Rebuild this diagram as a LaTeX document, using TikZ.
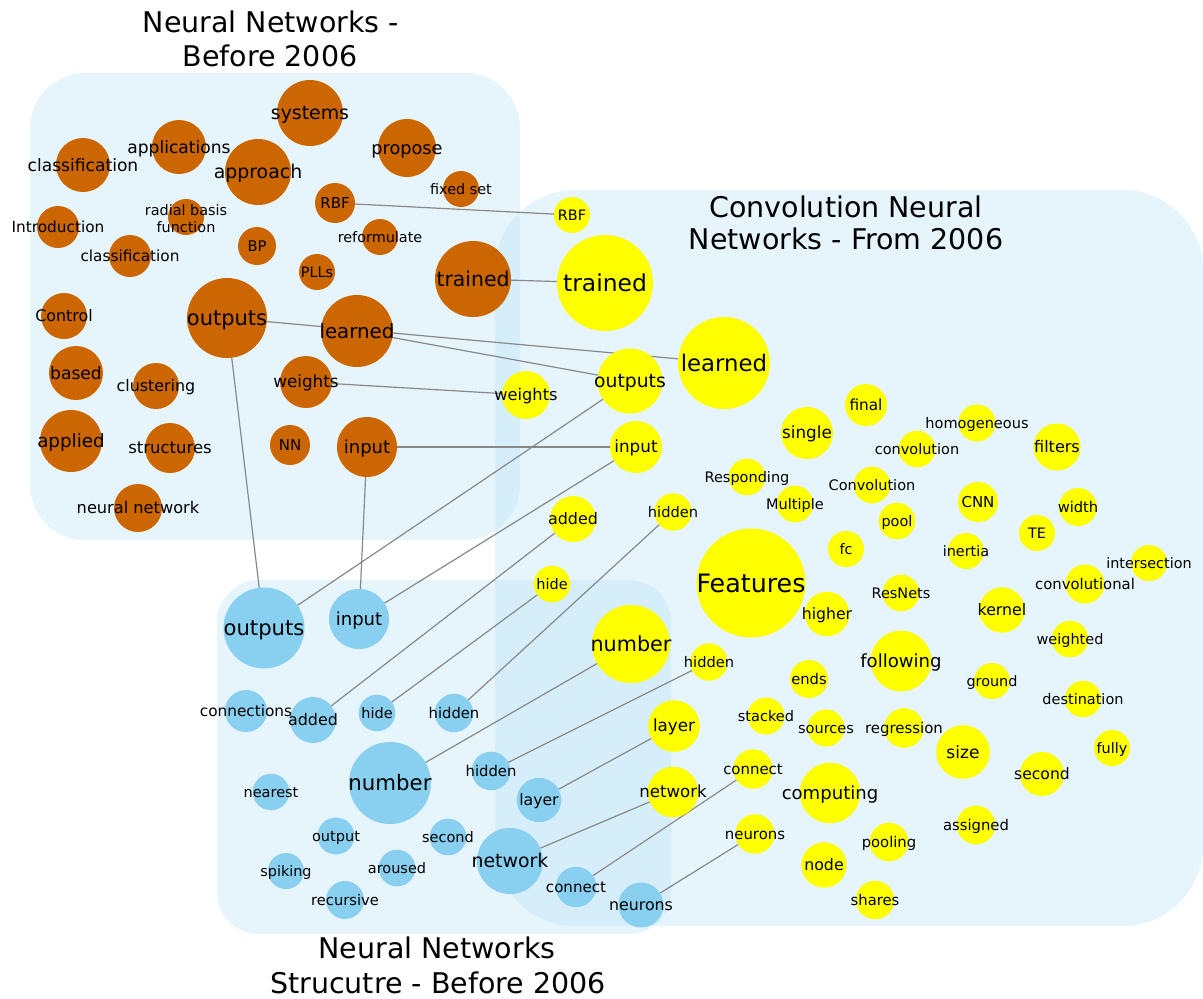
\documentclass[tikz,border=0pt]{standalone}
\usepackage{fontspec}
\setmainfont{DejaVu Sans}

\pgfdeclarelayer{panels}
\pgfdeclarelayer{edges}
\pgfdeclarelayer{labels}
\pgfsetlayers{panels,edges,main,labels}

\definecolor{panelblue}{RGB}{186,227,247}
\definecolor{nodeorange}{RGB}{204,102,0}
\definecolor{nodeyellow}{RGB}{255,255,0}
\definecolor{nodeblue}{RGB}{137,207,240}
\definecolor{edgegray}{RGB}{136,136,136}

\tikzset{
  bubble/.style={circle, inner sep=0pt, outer sep=0pt, draw=none},
  ob/.style={bubble, fill=nodeorange},
  yb/.style={bubble, fill=nodeyellow},
  bb/.style={bubble, fill=nodeblue},
  lbl/.style={inner sep=0pt},
  link/.style={draw=edgegray, line width=1.2pt},
  panel/.style={fill=panelblue, fill opacity=0.36},
  grouptitle/.style={anchor=base, inner sep=0pt, font=\fontsize{28.5}{34}\selectfont},
}

% one word bubble: style, name, x, y, radius, label
\newcommand{\wordnode}[6]{%
  \node[#1, minimum size={2*#5pt}] (#2) at (#3,#4) {};
  \pgfmathsetmacro{\wordfs}{9+0.3*#5}%
  \pgfmathsetmacro{\wordht}{0.93*\wordfs}%
  \pgfmathsetmacro{\worddp}{0.22*\wordfs}%
  \begin{pgfonlayer}{labels}
    \node[lbl, text height=\wordht pt, text depth=\worddp pt,
          font=\fontsize{\wordfs pt}{\wordfs pt}\selectfont] (#2-t) at (#3,#4) {#6};
  \end{pgfonlayer}%
}

\begin{document}
\begin{tikzpicture}[x=1pt,y=-1pt]
\useasboundingbox (0,0) rectangle (1203,999);

% group panels
\begin{pgfonlayer}{panels}
  \fill[panel, rounded corners=55pt] (30,73) rectangle (520,540);
  \fill[panel, rounded corners=80pt] (495,190) rectangle (1203,926);
  \fill[panel, rounded corners=42pt] (217,580) rectangle (671,934);
\end{pgfonlayer}

% group titles
\node[grouptitle] (t1a) at (271,32) {Neural Networks -};
\node[grouptitle] (t1b) at (270,66) {Before 2006};
\node[grouptitle] (t2a) at (846,217) {Convolution Neural};
\node[grouptitle] (t2b) at (846,249) {Networks - From 2006};
\node[grouptitle] (t3a) at (437,958) {Neural Networks};
\node[grouptitle] (t3b) at (438,993) {Strucutre - Before 2006};

% neural networks before 2006
\wordnode{ob}{o-systems}{310}{113}{33}{systems}
\wordnode{ob}{o-applications}{179}{147}{27}{applications}
\wordnode{ob}{o-class1}{83}{165}{27}{classification}
\wordnode{ob}{o-approach}{258}{172}{33}{approach}
\wordnode{ob}{o-propose}{407}{148}{29}{propose}
\wordnode{ob}{o-fixedset}{461}{189}{18}{fixed set}
\wordnode{ob}{o-rbf}{335}{203}{20}{RBF}
\node[ob, minimum size=36pt] (o-radial) at (186,217) {};
\begin{pgfonlayer}{labels}
  \node[inner sep=0pt, align=center, font=\fontsize{14.4pt}{17pt}\selectfont] (o-radial-t) at (186,219) {radial basis\\function};
\end{pgfonlayer}
\wordnode{ob}{o-intro}{58}{227}{21}{Introduction}
\wordnode{ob}{o-reform}{380}{237}{18}{reformulate}
\wordnode{ob}{o-bp}{257}{246}{19}{BP}
\wordnode{ob}{o-class2}{130}{256}{21}{classification}
\wordnode{ob}{o-plls}{317}{272}{18}{PLLs}
\wordnode{ob}{o-trained}{473}{279}{38}{trained}
\wordnode{ob}{o-outputs}{227}{318}{40}{outputs}
\wordnode{ob}{o-control}{64}{316}{23}{Control}
\wordnode{ob}{o-learned}{357}{331}{36}{learned}
\wordnode{ob}{o-based}{76}{373}{27}{based}
\wordnode{ob}{o-clustering}{156}{386}{23}{clustering}
\wordnode{ob}{o-weights}{306}{382}{26}{weights}
\wordnode{ob}{o-applied}{71}{441}{31}{applied}
\wordnode{ob}{o-structures}{170}{448}{25}{structures}
\wordnode{ob}{o-nn}{290}{445}{20}{NN}
\wordnode{ob}{o-input}{367}{447}{30}{input}
\wordnode{ob}{o-neural}{138}{508}{24}{neural network}

% convolution neural networks from 2006
\wordnode{yb}{y-rbf}{572}{215}{18}{RBF}
\wordnode{yb}{y-trained}{605}{283}{48}{trained}
\wordnode{yb}{y-learned}{724}{363}{46}{learned}
\wordnode{yb}{y-outputs}{630}{381}{32.5}{outputs}
\wordnode{yb}{y-weights}{526}{395}{24}{weights}
\wordnode{yb}{y-input}{636}{447}{26}{input}
\wordnode{yb}{y-final}{866}{405}{21}{final}
\wordnode{yb}{y-single}{807}{433}{26}{single}
\wordnode{yb}{y-homog}{977}{423}{18.5}{homogeneous}
\wordnode{yb}{y-conv1}{917}{449}{18.3}{convolution}
\wordnode{yb}{y-filters}{1057}{447}{23.5}{filters}
\wordnode{yb}{y-resp}{747}{477}{18.3}{Responding}
\wordnode{yb}{y-conv2}{872}{485}{18.3}{Convolution}
\wordnode{yb}{y-multiple}{795}{504}{18.3}{Multiple}
\wordnode{yb}{y-cnn}{978}{502}{20}{CNN}
\wordnode{yb}{y-width}{1078}{507}{19}{width}
\wordnode{yb}{y-pool}{897}{521}{18.3}{pool}
\wordnode{yb}{y-te}{1037}{533}{18}{TE}
\wordnode{yb}{y-added}{573}{519}{23}{added}
\wordnode{yb}{y-hidden1}{673}{512}{18.7}{hidden}
\wordnode{yb}{y-fc}{846}{549}{18}{fc}
\wordnode{yb}{y-inertia}{966}{551}{18}{inertia}
\wordnode{yb}{y-intersect}{1149}{563}{18}{intersection}
\wordnode{yb}{y-hide}{552}{584}{18.3}{hide}
\wordnode{yb}{y-features}{751}{583}{54.5}{Features}
\wordnode{yb}{y-resnets}{901}{593}{18.3}{ResNets}
\wordnode{yb}{y-convl}{1085}{584}{19.5}{convolutional}
\wordnode{yb}{y-higher}{827}{614}{22.3}{higher}
\wordnode{yb}{y-kernel}{1002}{610}{22.7}{kernel}
\wordnode{yb}{y-weighted}{1070}{639}{18.3}{weighted}
\wordnode{yb}{y-number}{631}{644}{39}{number}
\wordnode{yb}{y-hidden2}{709}{662}{18.7}{hidden}
\wordnode{yb}{y-following}{901}{661}{30.3}{following}
\wordnode{yb}{y-ends}{809}{679}{19}{ends}
\wordnode{yb}{y-ground}{992}{681}{18}{ground}
\wordnode{yb}{y-dest}{1083}{699}{18.2}{destination}
\wordnode{yb}{y-layer}{674}{726}{25.8}{layer}
\wordnode{yb}{y-stacked}{766}{716}{18.5}{stacked}
\wordnode{yb}{y-sources}{826}{728}{18.5}{sources}
\wordnode{yb}{y-regression}{904}{728}{19.8}{regression}
\wordnode{yb}{y-size}{963}{752}{26.8}{size}
\wordnode{yb}{y-fully}{1112}{748}{18}{fully}
\wordnode{yb}{y-connect}{753}{769}{19.7}{connect}
\wordnode{yb}{y-second}{1042}{774}{22}{second}
\wordnode{yb}{y-network}{673}{792}{25.3}{network}
\wordnode{yb}{y-computing}{830}{793}{30.2}{computing}
\wordnode{yb}{y-assigned}{976}{825}{19.3}{assigned}
\wordnode{yb}{y-neurons}{755}{834}{19.7}{neurons}
\wordnode{yb}{y-pooling}{889}{842}{19.3}{pooling}
\wordnode{yb}{y-node}{824}{865}{22.7}{node}
\wordnode{yb}{y-shares}{875}{900}{19.2}{shares}

% neural network structure before 2006
\wordnode{bb}{b-outputs}{264}{628}{40.5}{outputs}
\wordnode{bb}{b-input}{359}{619}{30}{input}
\wordnode{bb}{b-connections}{246}{711}{21}{connections}
\wordnode{bb}{b-added}{313}{720}{23}{added}
\wordnode{bb}{b-hide}{377}{713}{18.3}{hide}
\wordnode{bb}{b-hidden1}{454}{713}{19.2}{hidden}
\wordnode{bb}{b-number}{390}{783}{41}{number}
\wordnode{bb}{b-hidden2}{491}{771}{19.3}{hidden}
\wordnode{bb}{b-nearest}{271}{792}{18.3}{nearest}
\wordnode{bb}{b-layer}{539}{800}{22.2}{layer}
\wordnode{bb}{b-output}{336}{836}{18.5}{output}
\wordnode{bb}{b-second}{448}{837}{18.3}{second}
\wordnode{bb}{b-network}{510}{861}{33}{network}
\wordnode{bb}{b-spiking}{286}{871}{18}{spiking}
\wordnode{bb}{b-aroused}{397}{868}{18.3}{aroused}
\wordnode{bb}{b-recursive}{345}{900}{19}{recursive}
\wordnode{bb}{b-connect}{576}{887}{20.2}{connect}
\wordnode{bb}{b-neurons}{641}{905}{22.5}{neurons}

% shared terms
\begin{pgfonlayer}{edges}
  \draw[link] (o-rbf) -- (y-rbf);
  \draw[link] (o-trained) -- (y-trained);
  \draw[link] (o-outputs) -- (y-learned);
  \draw[link] (o-learned) -- (y-outputs);
  \draw[link] (o-weights) -- (y-weights);
  \draw[link] (o-input) -- (y-input);
  \draw[link] (o-outputs) -- (b-outputs);
  \draw[link] (o-input) -- (b-input);
  \draw[link] (y-outputs) -- (b-outputs);
  \draw[link] (y-input) -- (b-input);
  \draw[link] (y-added) -- (b-added);
  \draw[link] (y-hide) -- (b-hide);
  \draw[link] (y-hidden1) -- (b-hidden1);
  \draw[link] (y-number) -- (b-number);
  \draw[link] (y-hidden2) -- (b-hidden2);
  \draw[link] (y-layer) -- (b-layer);
  \draw[link] (y-network) -- (b-network);
  \draw[link] (y-connect) -- (b-connect);
  \draw[link] (y-neurons) -- (b-neurons);
\end{pgfonlayer}
\end{tikzpicture}
\end{document}
